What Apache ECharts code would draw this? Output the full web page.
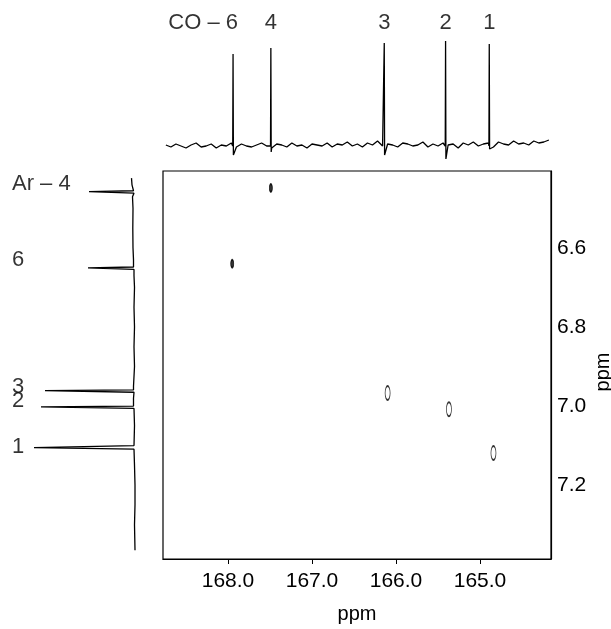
<!DOCTYPE html>
<html>
<head>
<meta charset="utf-8">
<script src="https://cdn.jsdelivr.net/npm/echarts@6/dist/echarts.min.js"></script>
<style>
  html, body { margin: 0; padding: 0; background: #fff; }
  #chart { width: 611px; height: 629px; }
</style>
</head>
<body>
<div id="chart"></div>
<script>
// 13C projection (top)
const carbonLabels = ["CO – 6", "4", "3", "2", "1"];
const carbonShift = [167.94, 167.49, 166.14, 165.41, 164.89];
const carbonHeight = [9.2, 9.8, 10.3, 10.5, 10.2];
const carbonDip = [-0.9, -0.6, -0.9, -1.3, -0.3];
const carbonNoiseStart = 168.74;
const carbonNoiseStep = 0.06;
const carbonNoise = [0.1, -0.1, 0.2, 0, -0.2, 0.1, 0.3, -0.1, 0, 0.2, -0.2, 0.1, 0, 0.3, -0.1, 0.2, 0, -0.1, 0.1, 0.3,
  0, -0.2, 0.2, 0.1, -0.1, 0.3, 0, 0.1, -0.2, 0.2, 0.1, 0, 0.3, -0.1, 0.2, 0.1, 0.4, 0, 0.2, -0.1,
  0.3, 0.1, 0.5, 0, 0.2, 0.1, -0.1, 0.3, 0.2, 0, 0.1, 0.4, -0.1, 0.2, 0, 0.3, 0.1, 0.2, -0.2, 0.3,
  0.1, 0.4, 0, 0.2, 0.3, -0.1, 0.4, 0.2, 0.1, 0.5, 0.2, 0.3, 0.1, 0.5, 0.3, 0.4, 0.6];

// 1H projection (left)
const protonLabels = ["Ar – 4", "6", "3", "2", "1"];
const protonLabelPos = [6.438, 6.630, 6.952, 6.987, 7.104];
const protonShift = [6.458, 6.651, 6.962, 7.003, 7.106];
const protonHeight = [4.5, 4.6, 8.9, 9.3, 10.0];
const protonBase = [[6.423, 0.25], [6.44, 0.2], [6.47, 0.15], [6.5, 0.1], [6.55, 0.12], [6.6, 0.1], [6.63, 0.05],
  [6.67, 0.0], [6.7, -0.05], [6.75, 0.0], [6.8, -0.05], [6.85, 0.0], [6.9, -0.05], [6.95, 0.05], [6.98, 0.05],
  [7.05, -0.05], [7.1, 0.0], [7.15, -0.05], [7.2, -0.1], [7.25, -0.1], [7.3, -0.05], [7.365, -0.1]];

// HMBC cross peaks
const crossC = [167.49, 167.95, 166.10, 165.37, 164.84];
const crossH = [6.448, 6.640, 6.967, 7.008, 7.119];

const cTicks = [165, 166, 167, 168];
const hTicks = [6.6, 6.8, 7.0, 7.2];

// top trace: noise + peaks, sorted by shift
let topTrace = carbonNoise.map((v, i) => [carbonNoiseStart - i * carbonNoiseStep, v]);
carbonShift.forEach((s, i) => {
  topTrace.push([s + 0.004, 0], [s, carbonHeight[i]], [s - 0.004, carbonDip[i]]);
});
topTrace.sort((a, b) => b[0] - a[0]);

// left trace: baseline + peaks, sorted by shift
let leftTrace = protonBase.map(p => [p[1], p[0]]);
protonShift.forEach((s, i) => {
  leftTrace.push([0.05, s - 0.003], [protonHeight[i], s - 0.001], [protonHeight[i], s + 0.001], [0.0, s + 0.003]);
});
leftTrace.sort((a, b) => a[1] - b[1]);

const font = "Liberation Sans, Arial, sans-serif";
const black = "#000";

const chart = echarts.init(document.getElementById("chart"));
const option = {
  animation: false,
  backgroundColor: "#fff",
  textStyle: { fontFamily: font, color: black },
  grid: [
    { left: 163, top: 171, width: 388, height: 388, show: true, borderColor: black, borderWidth: 1.2, outerBoundsMode: "none" },
    { left: 163, top: 8, width: 388, height: 153, outerBoundsMode: "none" },
    { left: 10, top: 171, width: 130, height: 388, outerBoundsMode: "none" },
  ],
  xAxis: [
    {
      gridIndex: 0, type: "value", inverse: true, min: 164.155, max: 168.774,
      splitLine: { show: false },
      axisLine: { show: true, lineStyle: { color: black, width: 1.2 } },
      axisTick: { show: true, customValues: cTicks, length: 5, lineStyle: { color: black } },
      axisLabel: { customValues: cTicks, formatter: v => v.toFixed(1), fontSize: 21, color: black, margin: 12, fontFamily: font },
      name: "ppm", nameLocation: "middle", nameGap: 45, nameMoveOverlap: false,
      nameTextStyle: { fontSize: 20, color: black, fontFamily: font },
    },
    { gridIndex: 1, type: "value", inverse: true, min: 164.155, max: 168.774, show: false },
    { gridIndex: 2, type: "value", inverse: true, min: -0.6, max: 12.4, show: false },
  ],
  yAxis: [
    {
      gridIndex: 0, type: "value", inverse: true, position: "right", min: 6.405, max: 7.387,
      splitLine: { show: false },
      axisLine: { show: true, lineStyle: { color: black, width: 1.2 } },
      axisTick: { show: false },
      axisLabel: { customValues: hTicks, formatter: v => v.toFixed(1), fontSize: 21, color: black, margin: 6, fontFamily: font },
      name: "ppm", nameLocation: "middle", nameGap: 42, nameRotate: 90, nameMoveOverlap: false,
      nameTextStyle: { fontSize: 20, color: black, fontFamily: font, padding: [0, 14, 0, 0] },
    },
    { gridIndex: 1, type: "value", min: -1.5, max: 13.8, show: false },
    { gridIndex: 2, type: "value", inverse: true, min: 6.405, max: 7.387, show: false },
  ],
  series: [
    {
      name: "13C",
      type: "line",
      xAxisIndex: 1, yAxisIndex: 1,
      data: topTrace,
      showSymbol: false,
      lineStyle: { color: black, width: 1.3 },
    },
    {
      name: "13C labels",
      type: "scatter",
      xAxisIndex: 1, yAxisIndex: 1,
      symbolSize: 0,
      data: carbonShift.map((s, i) => ({
        value: [s, 12.3],
        name: carbonLabels[i],
        label: i === 0 ? { align: "right", offset: [5, 0] } : {},
      })),
      label: { show: true, position: "inside", formatter: p => p.name, fontSize: 22, color: black, fontFamily: font },
    },
    {
      name: "1H",
      type: "line",
      xAxisIndex: 2, yAxisIndex: 2,
      data: leftTrace,
      showSymbol: false,
      lineStyle: { color: black, width: 1.3 },
    },
    {
      name: "1H labels",
      type: "scatter",
      xAxisIndex: 2, yAxisIndex: 2,
      symbolSize: 0,
      data: protonLabelPos.map((y, i) => ({ value: [12.2, y], name: protonLabels[i] })),
      label: { show: true, position: "inside", align: "left", formatter: p => p.name, fontSize: 22, color: black, fontFamily: font },
    },
    {
      name: "cross peaks",
      type: "scatter",
      xAxisIndex: 0, yAxisIndex: 0,
      data: crossC.map((c, i) => [c, crossH[i]]),
      symbol: "circle",
      symbolSize: (v, p) => (p.dataIndex < 2 ? [3, 8] : [5, 14]),
      itemStyle: {
        color: p => (p.dataIndex < 2 ? black : "#fff"),
        borderColor: black,
        borderWidth: 1.2,
      },
    },
  ],
};
chart.setOption(option);
</script>
</body>
</html>
